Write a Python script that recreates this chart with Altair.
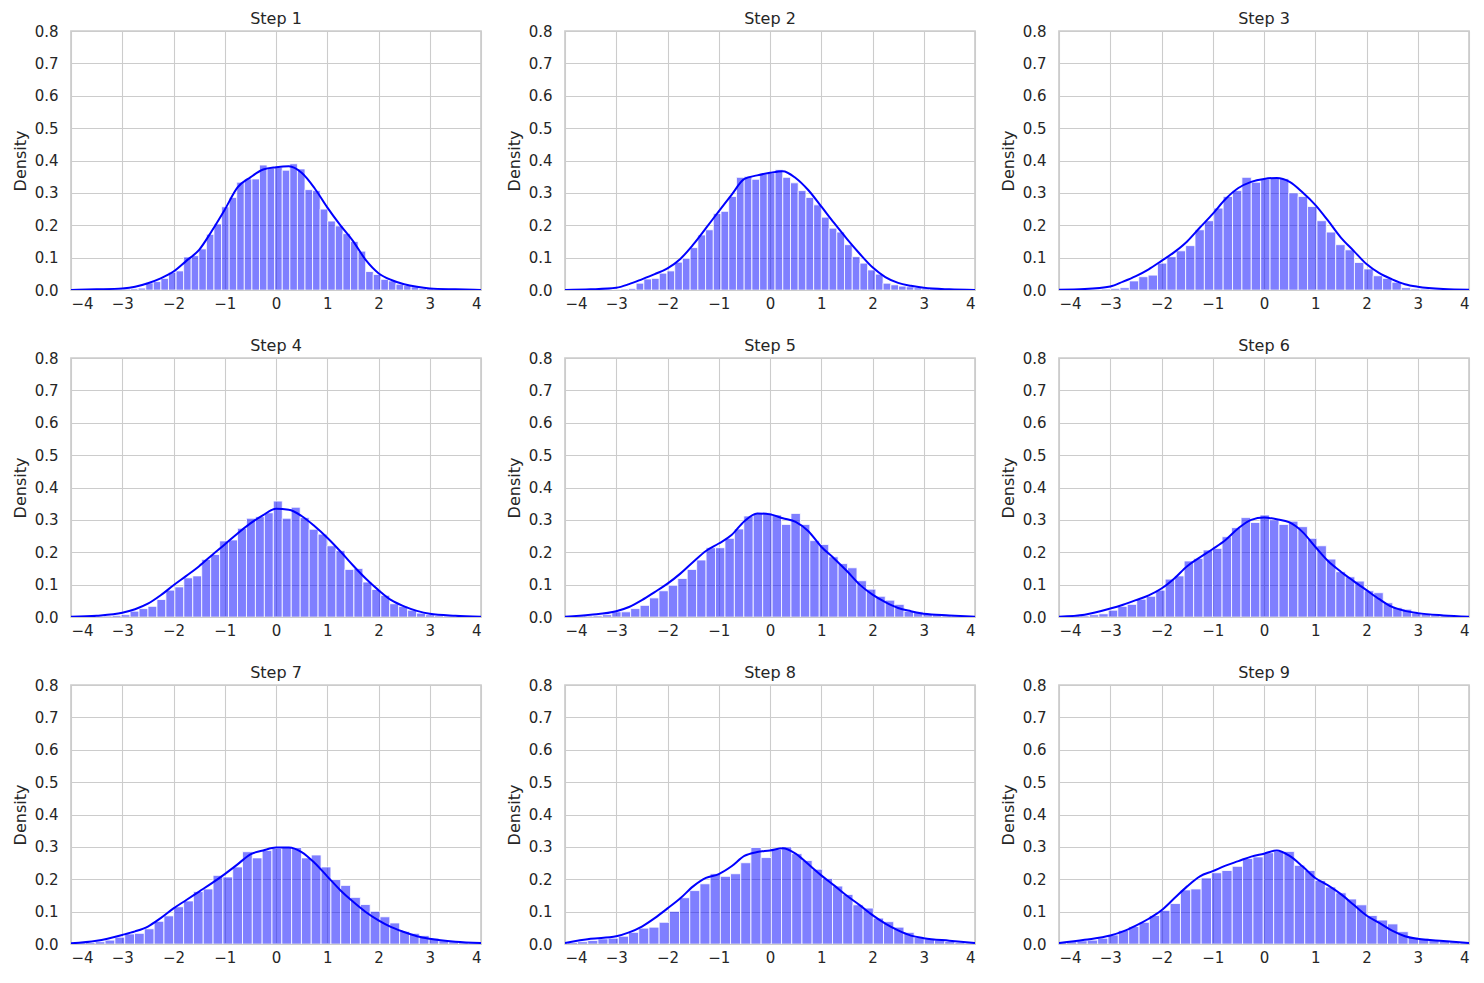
import altair as alt
import pandas as pd

titles = [f"Step {i}" for i in range(1, 10)]

# histogram bins: left edge of first bin and bin width per panel
bin_start = [-3.578, -3.817, -3.908, -4.070, -4.007, -3.963, -4.102, -3.954, -4.054]
bin_width = [0.148, 0.1506, 0.183, 0.1747, 0.184, 0.185, 0.1916, 0.199, 0.202]

heights_1 = [0.002, 0.001, 0.002, 0.002, 0.003, 0.004, 0.006, 0.022, 0.026, 0.036,
             0.055, 0.059, 0.102, 0.106, 0.127, 0.172, 0.204, 0.257, 0.286, 0.333,
             0.343, 0.343, 0.386, 0.377, 0.379, 0.370, 0.390, 0.374, 0.310, 0.307,
             0.250, 0.213, 0.198, 0.174, 0.150, 0.120, 0.057, 0.048, 0.033, 0.028,
             0.018, 0.014, 0.010, 0.005, 0.004, 0.003, 0.002, 0.002, 0.001, 0.001]
heights_2 = [0.001, 0.001, 0.002, 0.001, 0.002, 0.002, 0.003, 0.005, 0.021, 0.034,
             0.036, 0.052, 0.059, 0.086, 0.098, 0.131, 0.170, 0.186, 0.236, 0.243,
             0.289, 0.348, 0.351, 0.342, 0.358, 0.362, 0.372, 0.348, 0.331, 0.307,
             0.286, 0.263, 0.225, 0.191, 0.179, 0.140, 0.103, 0.083, 0.062, 0.049,
             0.021, 0.016, 0.012, 0.010, 0.007, 0.004, 0.003, 0.002, 0.002, 0.001]
heights_3 = [0.001, 0.001, 0.002, 0.002, 0.003, 0.005, 0.007, 0.028, 0.041, 0.046,
             0.083, 0.103, 0.121, 0.137, 0.186, 0.214, 0.253, 0.289, 0.307, 0.348,
             0.333, 0.343, 0.346, 0.344, 0.300, 0.289, 0.258, 0.214, 0.179, 0.140,
             0.124, 0.085, 0.065, 0.044, 0.036, 0.024, 0.007, 0.004, 0.003, 0.002,
             0.001, 0.001, 0.001]
heights_4 = [0.001, 0.001, 0.002, 0.002, 0.003, 0.005, 0.007, 0.018, 0.026, 0.033,
             0.054, 0.083, 0.093, 0.121, 0.127, 0.178, 0.193, 0.235, 0.238, 0.274,
             0.305, 0.310, 0.322, 0.358, 0.305, 0.339, 0.307, 0.271, 0.256, 0.220,
             0.205, 0.147, 0.150, 0.108, 0.085, 0.067, 0.041, 0.033, 0.021, 0.012,
             0.007, 0.004, 0.003, 0.002, 0.001, 0.001]
heights_5 = [0.001, 0.002, 0.003, 0.004, 0.007, 0.016, 0.016, 0.026, 0.036, 0.059,
             0.081, 0.098, 0.119, 0.147, 0.176, 0.214, 0.214, 0.243, 0.272, 0.312,
             0.320, 0.322, 0.315, 0.286, 0.320, 0.286, 0.236, 0.224, 0.186, 0.165,
             0.152, 0.112, 0.086, 0.064, 0.052, 0.039, 0.018, 0.016, 0.010, 0.007,
             0.004, 0.003, 0.002, 0.001]
heights_6 = [0.002, 0.003, 0.004, 0.007, 0.010, 0.021, 0.033, 0.039, 0.055, 0.064,
             0.083, 0.117, 0.127, 0.173, 0.181, 0.207, 0.212, 0.248, 0.276, 0.307,
             0.292, 0.315, 0.300, 0.286, 0.296, 0.279, 0.243, 0.220, 0.179, 0.140,
             0.124, 0.111, 0.081, 0.075, 0.044, 0.029, 0.024, 0.013, 0.010, 0.007,
             0.004, 0.003, 0.002]
heights_7 = [0.003, 0.004, 0.005, 0.007, 0.012, 0.021, 0.031, 0.033, 0.047, 0.070,
             0.087, 0.115, 0.133, 0.162, 0.170, 0.212, 0.207, 0.238, 0.285, 0.266,
             0.289, 0.295, 0.298, 0.298, 0.266, 0.275, 0.238, 0.199, 0.181, 0.144,
             0.122, 0.101, 0.084, 0.065, 0.039, 0.033, 0.026, 0.018, 0.010, 0.007,
             0.005, 0.003, 0.002]
heights_8 = [0.005, 0.007, 0.011, 0.016, 0.018, 0.024, 0.036, 0.049, 0.052, 0.067,
             0.101, 0.143, 0.165, 0.186, 0.217, 0.209, 0.217, 0.251, 0.298, 0.267,
             0.292, 0.300, 0.279, 0.258, 0.231, 0.202, 0.179, 0.153, 0.121, 0.111,
             0.080, 0.069, 0.052, 0.036, 0.021, 0.016, 0.012, 0.008, 0.005, 0.003]
heights_9 = [0.005, 0.007, 0.010, 0.012, 0.018, 0.028, 0.042, 0.054, 0.067, 0.088,
             0.104, 0.125, 0.167, 0.170, 0.204, 0.220, 0.227, 0.240, 0.264, 0.269,
             0.282, 0.286, 0.286, 0.243, 0.227, 0.196, 0.176, 0.158, 0.139, 0.121,
             0.088, 0.074, 0.062, 0.038, 0.021, 0.018, 0.012, 0.010, 0.007, 0.004]

# KDE curves read at these x positions
kde_x = [-4, -3.5, -3, -2.75, -2.5, -2.25, -2, -1.75, -1.5, -1.25, -1, -0.75, -0.5, -0.25,
         0, 0.25, 0.5, 0.75, 1, 1.25, 1.5, 1.75, 2, 2.25, 2.5, 2.75, 3, 3.5, 4]
kde_1 = [0.000, 0.002, 0.005, 0.010, 0.021, 0.036, 0.057, 0.090, 0.124, 0.183, 0.248, 0.317,
         0.348, 0.372, 0.379, 0.382, 0.362, 0.315, 0.255, 0.201, 0.152, 0.093, 0.052, 0.031,
         0.018, 0.010, 0.005, 0.002, 0.000]
kde_2 = [0.000, 0.002, 0.007, 0.018, 0.033, 0.049, 0.067, 0.096, 0.140, 0.191, 0.243, 0.294,
         0.343, 0.354, 0.362, 0.367, 0.346, 0.308, 0.258, 0.207, 0.158, 0.112, 0.070, 0.040,
         0.022, 0.013, 0.007, 0.002, 0.000]
kde_3 = [0.001, 0.003, 0.011, 0.026, 0.043, 0.064, 0.090, 0.117, 0.150, 0.193, 0.235, 0.281,
         0.315, 0.334, 0.343, 0.346, 0.334, 0.302, 0.263, 0.214, 0.162, 0.121, 0.080, 0.052,
         0.033, 0.018, 0.010, 0.003, 0.001]
kde_4 = [0.001, 0.004, 0.013, 0.024, 0.041, 0.067, 0.098, 0.127, 0.157, 0.191, 0.224, 0.258,
         0.289, 0.315, 0.334, 0.331, 0.312, 0.281, 0.245, 0.204, 0.160, 0.119, 0.083, 0.052,
         0.033, 0.019, 0.010, 0.004, 0.001]
kde_5 = [0.001, 0.007, 0.018, 0.031, 0.052, 0.077, 0.103, 0.134, 0.170, 0.204, 0.227, 0.253,
         0.296, 0.320, 0.317, 0.305, 0.294, 0.265, 0.217, 0.181, 0.142, 0.100, 0.069, 0.046,
         0.028, 0.018, 0.010, 0.005, 0.001]
kde_6 = [0.001, 0.007, 0.026, 0.038, 0.052, 0.067, 0.088, 0.119, 0.157, 0.184, 0.210, 0.238,
         0.274, 0.300, 0.307, 0.302, 0.292, 0.263, 0.217, 0.173, 0.140, 0.111, 0.083, 0.055,
         0.031, 0.019, 0.012, 0.005, 0.001]
kde_7 = [0.002, 0.010, 0.028, 0.039, 0.054, 0.080, 0.110, 0.136, 0.162, 0.188, 0.216, 0.246,
         0.277, 0.289, 0.298, 0.298, 0.284, 0.251, 0.209, 0.167, 0.131, 0.099, 0.073, 0.052,
         0.037, 0.024, 0.016, 0.007, 0.003]
kde_8 = [0.003, 0.016, 0.024, 0.036, 0.054, 0.080, 0.110, 0.141, 0.178, 0.204, 0.216, 0.240,
         0.272, 0.284, 0.289, 0.296, 0.279, 0.246, 0.212, 0.181, 0.149, 0.120, 0.089, 0.063,
         0.042, 0.026, 0.018, 0.010, 0.003]
kde_9 = [0.003, 0.013, 0.026, 0.039, 0.057, 0.078, 0.104, 0.141, 0.178, 0.209, 0.225, 0.242,
         0.256, 0.270, 0.279, 0.289, 0.272, 0.240, 0.204, 0.181, 0.154, 0.121, 0.088, 0.065,
         0.041, 0.024, 0.016, 0.009, 0.003]

y_ticks = [0.0, 0.1, 0.2, 0.3, 0.4, 0.5, 0.6, 0.7, 0.8]
x_ticks = [-4, -3, -2, -1, 0, 1, 2, 3, 4]

all_heights = [heights_1, heights_2, heights_3, heights_4, heights_5,
               heights_6, heights_7, heights_8, heights_9]
all_kde = [kde_1, kde_2, kde_3, kde_4, kde_5, kde_6, kde_7, kde_8, kde_9]

FONT = "DejaVu Sans"
TXT = "#262626"


def panel(i):
    h = all_heights[i]
    s = bin_start[i]
    w = bin_width[i]
    bars = pd.DataFrame({
        "x0": [s + k * w for k in range(len(h))],
        "x1": [s + (k + 1) * w for k in range(len(h))],
        "density": h,
    })
    kde = pd.DataFrame({"x": kde_x, "density": all_kde[i]})
    xs = alt.Scale(domain=[-4, 4], nice=False, zero=False)
    ys = alt.Scale(domain=[0, 0.8], nice=False)
    xaxis = alt.Axis(values=x_ticks, format="d", title=None, labelPadding=6,
                     labelOverlap=False)
    yaxis = alt.Axis(values=y_ticks, format=".1f", title="Density", labelPadding=13,
                     titlePadding=6, labelOverlap=False)
    b = alt.Chart(bars).mark_rect(
        fill="#0000ff", fillOpacity=0.5, stroke="white", strokeWidth=1,
        strokeOpacity=0.8, clip=True
    ).encode(
        x=alt.X("x0:Q", scale=xs, axis=xaxis),
        x2="x1:Q",
        y=alt.Y("density:Q", scale=ys, axis=yaxis),
        y2=alt.datum(0),
    )
    ln = alt.Chart(kde).mark_line(
        color="#0000ff", strokeWidth=2, interpolate="monotone", clip=True
    ).encode(
        x=alt.X("x:Q", scale=xs, axis=xaxis),
        y=alt.Y("density:Q", scale=ys, axis=yaxis),
    )
    return alt.layer(b, ln).properties(
        width=410, height=259, title=alt.TitleParams(titles[i])
    )


chart = alt.concat(
    *[panel(i) for i in range(9)], columns=3,
    spacing={"row": 68, "column": 84}, bounds="flush"
).configure_view(
    stroke="#cccccc", strokeWidth=1.7
).configure_axis(
    grid=True, gridColor="#cccccc", gridWidth=1.1, domain=False, ticks=False,
    labelFont=FONT, labelFontSize=15, labelColor=TXT,
    titleFont=FONT, titleFontSize=16, titleFontWeight="normal", titleColor=TXT,
).configure_title(
    font=FONT, fontSize=16, fontWeight="normal", color=TXT, offset=-3
).properties(padding={"left": 3, "top": 2, "right": 5, "bottom": 5})

chart.save("out.html", embed_options={"renderer": "svg", "actions": False})
